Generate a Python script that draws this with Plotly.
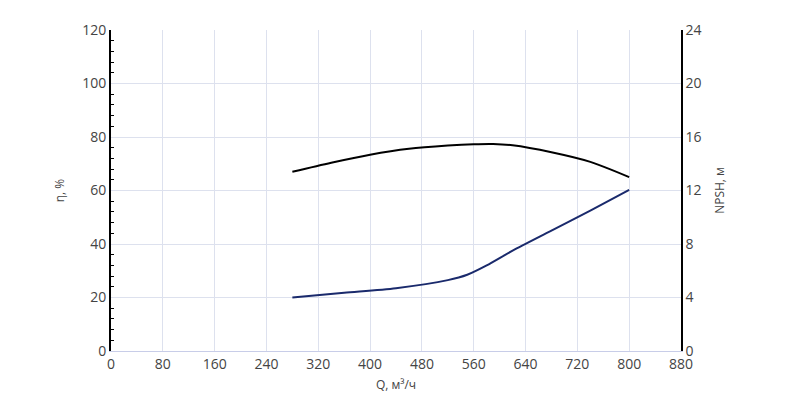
import plotly.graph_objects as go

# данные
q_eff = [280, 340, 400, 460, 520, 560, 590, 620, 680, 740, 800]
eff = [67.0, 70.4, 73.4, 75.6, 76.8, 77.3, 77.4, 76.9, 74.3, 70.7, 65.0]

q_npsh = [280, 360, 440, 520, 550, 580, 620, 680, 740, 800]
npsh = [4.0, 4.35, 4.7, 5.3, 5.7, 6.4, 7.5, 9.0, 10.5, 12.05]

x_ticks = list(range(0, 881, 80))

fig = go.Figure()
fig.add_trace(go.Scatter(x=q_eff, y=eff, mode="lines", line=dict(color="black", width=2, shape="spline", smoothing=0.8), yaxis="y"))
fig.add_trace(go.Scatter(x=q_npsh, y=npsh, mode="lines", line=dict(color="#1a2a6c", width=2, shape="spline", smoothing=0.8), yaxis="y2"))

font = dict(family="Open Sans", size=14, color="#444")
fig.update_layout(
    width=800, height=408, showlegend=False,
    plot_bgcolor="white", paper_bgcolor="white",
    margin=dict(l=103, r=127, t=17, b=65),
    font=font,
    xaxis=dict(range=[0, 880], tickvals=x_ticks, title=dict(text="Q, м³/ч", font=dict(size=12), standoff=8),
               showgrid=True, gridcolor="#dde1ee", linecolor="#c8cde8", showline=True, zeroline=False, ticks=""),
    yaxis=dict(range=[0, 120], dtick=20, title=dict(text="η, %", font=dict(size=12)),
               showgrid=True, gridcolor="#dde1ee", showline=True, linecolor="black", linewidth=2,
               zeroline=False, ticks="", minor=dict(dtick=4, ticks="inside", ticklen=3, tickcolor="black", showgrid=False)),
    yaxis2=dict(range=[0, 24], dtick=4, overlaying="y", side="right", title=dict(text="NPSH, м", font=dict(size=12)),
                showgrid=False, showline=True, linecolor="black", linewidth=1.5, zeroline=False, ticks=""),
)
fig.write_html("out.html")
